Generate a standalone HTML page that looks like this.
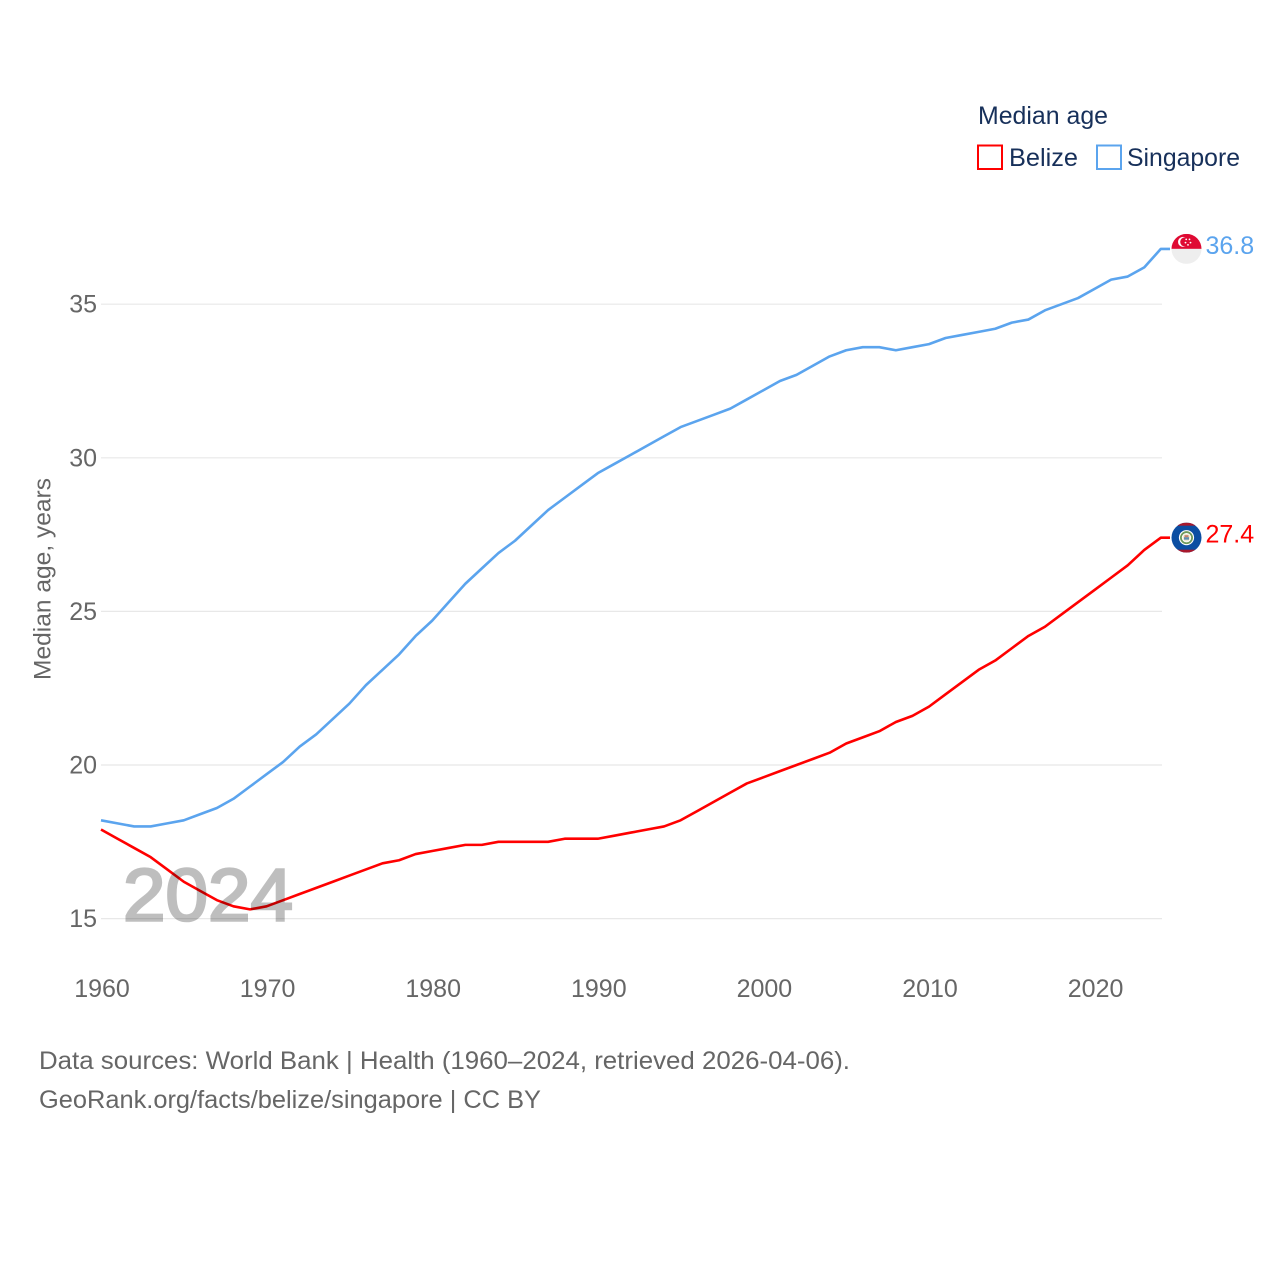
<!DOCTYPE html>
<html lang="en">
<head>
<meta charset="utf-8">
<title>Median age: Belize vs Singapore</title>
<style>
html,body{margin:0;padding:0;background:#fff;}
svg{display:block;font-family:"Liberation Sans",sans-serif;}
</style>
</head>
<body>
<svg id="chart" xmlns="http://www.w3.org/2000/svg" width="1280" height="1280" viewBox="0 0 1280 1280">
  <defs>
    <clipPath id="flag-clip"><circle cx="0" cy="0" r="15"></circle></clipPath>
  </defs>
  <rect width="1280" height="1280" fill="#ffffff"></rect>
  <g id="grid"></g>
  <g id="yticks"></g>
  <g id="xticks"></g>
  <text transform="translate(50.500,579) rotate(-90)" text-anchor="middle" font-size="24" fill="#666666" textLength="202" lengthAdjust="spacingAndGlyphs">Median age, years</text>
  <g id="series"></g>
  <text x="123" y="920.500" font-size="74" fill="#000000" stroke="#000000" stroke-width="2.600" opacity="0.25" textLength="170" lengthAdjust="spacingAndGlyphs">2024</text>
  <g id="flag-singapore">
    <g clip-path="url(#flag-clip)">
      <rect x="-15" y="-15" width="30" height="15" fill="#df0a33"></rect>
      <rect x="-15" y="0" width="30" height="15" fill="#eeeeee"></rect>
      <circle cx="-3.500" cy="-7" r="5" fill="#ffffff"></circle>
      <circle cx="-1.800" cy="-7" r="4.500" fill="#df0a33"></circle>
      <circle cx="-0.300" cy="-9.500" r="0.900" fill="#ffffff"></circle>
      <circle cx="3" cy="-9.500" r="0.900" fill="#ffffff"></circle>
      <circle cx="-1" cy="-6.300" r="0.900" fill="#ffffff"></circle>
      <circle cx="4" cy="-6.300" r="0.900" fill="#ffffff"></circle>
      <circle cx="1.500" cy="-4" r="0.900" fill="#ffffff"></circle>
    </g>
  </g>
  <g id="flag-belize">
    <g clip-path="url(#flag-clip)">
      <rect x="-15" y="-15" width="30" height="30" fill="#0b4ea2"></rect>
      <rect x="-15" y="-15" width="30" height="3" fill="#a8182c"></rect>
      <rect x="-15" y="12" width="30" height="3" fill="#a8182c"></rect>
      <circle r="7.600" fill="#ffffff"></circle>
      <circle r="5.600" fill="none" stroke="#6f9a5a" stroke-width="1.800"></circle>
      <circle r="3.800" fill="#f1ead0"></circle>
      <rect x="-2.500" y="-0.500" width="5" height="2.500" fill="#5f8fb0"></rect>
      <rect x="-2" y="-2.500" width="4" height="2" fill="#c8806a"></rect>
    </g>
  </g>
  <g id="labels"></g>
  <g>
    <text x="978" y="124" font-size="25" fill="#17305a" textLength="130" lengthAdjust="spacingAndGlyphs">Median age</text>
    <g>
      <rect x="978" y="145.500" width="24" height="23.500" fill="#ffffff" stroke="#ff0000" stroke-width="2"></rect>
      <text x="1009" y="166" font-size="25" fill="#17305a" textLength="69" lengthAdjust="spacingAndGlyphs">Belize</text>
    </g>
    <g>
      <rect x="1097" y="145.500" width="24" height="23.500" fill="#ffffff" stroke="#5ba4ee" stroke-width="2"></rect>
      <text x="1127" y="166" font-size="25" fill="#17305a" textLength="113" lengthAdjust="spacingAndGlyphs">Singapore</text>
    </g>
  </g>
  <text x="39" y="1069" font-size="25" fill="#666666" textLength="811" lengthAdjust="spacingAndGlyphs">Data sources: World Bank | Health (1960–2024, retrieved 2026-04-06).</text>
  <a>
    <text x="39" y="1108" font-size="25" fill="#666666" textLength="502" lengthAdjust="spacingAndGlyphs">GeoRank.org/facts/belize/singapore | CC BY</text>
  </a>
</svg>
<script>
const startYear = 1960;
const belizeValues = [17.9,17.6,17.3,17.0,16.6,16.2,15.9,15.6,15.4,15.3,15.4,15.6,15.8,16.0,16.2,16.4,16.6,16.8,16.9,17.1,17.2,17.3,17.4,17.4,17.5,17.5,17.5,17.5,17.6,17.6,17.6,17.7,17.8,17.9,18.0,18.2,18.5,18.8,19.1,19.4,19.6,19.8,20.0,20.2,20.4,20.7,20.9,21.1,21.4,21.6,21.9,22.3,22.7,23.1,23.4,23.8,24.2,24.5,24.9,25.3,25.7,26.1,26.5,27.0,27.4];
const singaporeValues = [18.2,18.1,18.0,18.0,18.1,18.2,18.4,18.6,18.9,19.3,19.7,20.1,20.6,21.0,21.5,22.0,22.6,23.1,23.6,24.2,24.7,25.3,25.9,26.4,26.9,27.3,27.8,28.3,28.7,29.1,29.5,29.8,30.1,30.4,30.7,31.0,31.2,31.4,31.6,31.9,32.2,32.5,32.7,33.0,33.3,33.5,33.6,33.6,33.5,33.6,33.7,33.9,34.0,34.1,34.2,34.4,34.5,34.8,35.0,35.2,35.5,35.8,35.9,36.2,36.8];
const yTickValues = [15,20,25,30,35];
const xTickValues = [1960,1970,1980,1990,2000,2010,2020];

const NS = 'http://www.w3.org/2000/svg';
function xScale(year){ return 101 + (year - 1960) * 16.56; }
function yScale(v){ return 918.6 - (v - 15) * 30.72; }
function make(tag, attrs, parent){
  const el = document.createElementNS(NS, tag);
  for (const k in attrs) el.setAttribute(k, attrs[k]);
  parent.appendChild(el);
  return el;
}

const grid = document.getElementById('grid');
const yticks = document.getElementById('yticks');
yTickValues.forEach(function(v){
  const line = make('line', {x1:101, x2:1162, y1:yScale(v), y2:yScale(v), stroke:'#e8e8e8', 'stroke-width':1.2}, grid);
  
  
  const t = make('text', {x:97, y:yScale(v)+8.5, 'text-anchor':'end', 'font-size':25, fill:'#666666'}, yticks);
  
  
  t.textContent = v;
});

const xticks = document.getElementById('xticks');
xTickValues.forEach(function(y){
  const t = make('text', {x:xScale(y)+1, y:997, 'text-anchor':'middle', 'font-size':25, fill:'#666666'}, xticks);
  
  
  t.textContent = y;
});

const seriesGroup = document.getElementById('series');
const labelGroup = document.getElementById('labels');
function drawSeries(values, color, flagId){
  const pts = values.map(function(v, i){ return xScale(startYear + i).toFixed(2) + ',' + yScale(v).toFixed(2); });
  const lastY = yScale(values[values.length - 1]);
  pts.push('1170,' + lastY.toFixed(2));
  const line = make('polyline', {points:pts.join(' '), fill:'none', stroke:color, 'stroke-width':2.6, 'stroke-linejoin':'round'}, seriesGroup);
  
  
  document.getElementById(flagId).setAttribute('transform', 'translate(1186.5,' + lastY.toFixed(2) + ')');
  const t = make('text', {x:1205.500, y:lastY + 5, 'font-size':25, fill:color}, labelGroup);
  
  
  t.textContent = values[values.length - 1].toFixed(1);
}
drawSeries(belizeValues, '#ff0000', 'flag-belize');
drawSeries(singaporeValues, '#5ba4ee', 'flag-singapore');
</script>
</body>
</html>
